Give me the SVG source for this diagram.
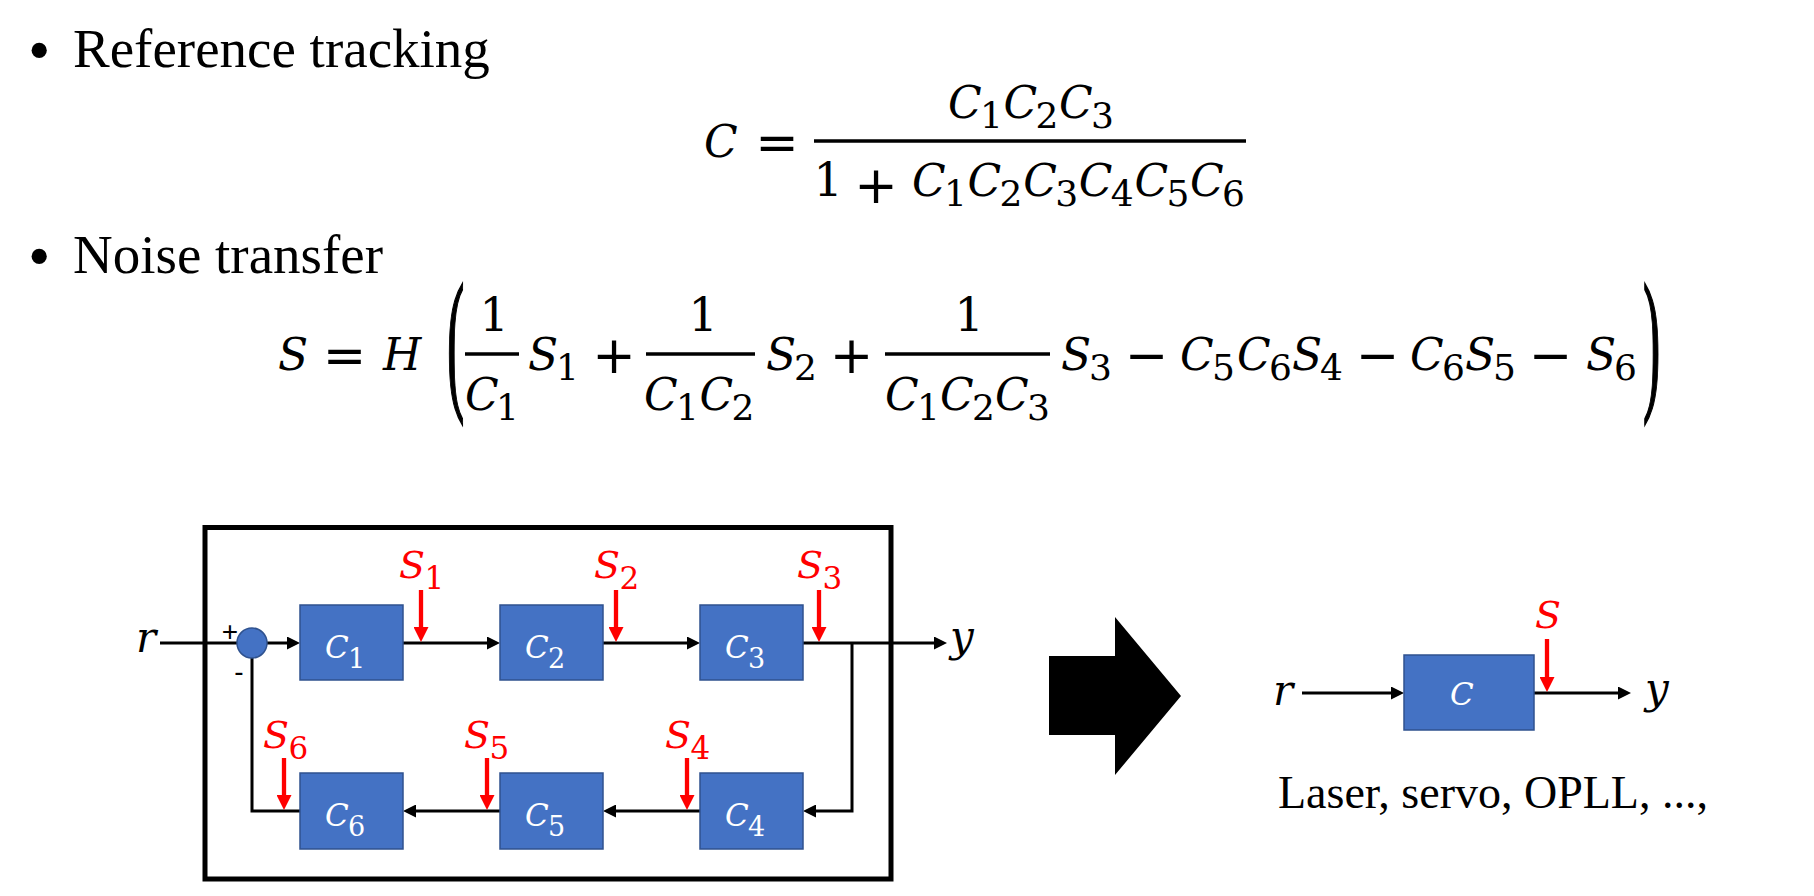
<svg xmlns="http://www.w3.org/2000/svg" width="1814" height="896" viewBox="0 0 1814 896">
<style>
.t{font-family:"Liberation Serif",serif;fill:#000}
.m{font-family:"DejaVu Serif",serif;font-style:italic;fill:#000}
.d{font-family:"DejaVu Serif",serif;font-style:normal}
.op{font-family:"DejaVu Sans",sans-serif;fill:#000;text-anchor:middle}
.box{fill:#4472C4;stroke:#2F528F;stroke-width:1.5}
.bl{font-family:"DejaVu Serif",serif;font-style:italic;fill:#fff;font-size:31px}
.nl{font-family:"DejaVu Serif",serif;font-style:italic;fill:#f00;font-size:38px}
.conn{stroke:#000;stroke-width:3;fill:none}
.noise{stroke:#f00;stroke-width:4.3;fill:none}
.bar{stroke:#000;stroke-width:3.4}
</style>
<defs>
<marker id="ah" markerUnits="userSpaceOnUse" viewBox="0 0 13 13" markerWidth="13" markerHeight="13" refX="7" refY="6.5" orient="auto"><path d="M0,0 L13,6.5 L0,13 z" fill="#000"/></marker>
<marker id="ahr" markerUnits="userSpaceOnUse" viewBox="0 0 15 15" markerWidth="15" markerHeight="15" refX="7" refY="7.5" orient="auto"><path d="M0,0 L15,7.5 L0,15 z" fill="#f00"/></marker>
</defs>
<rect width="1814" height="896" fill="#fff"/>

<g id="titles">
<text class="t" x="28" y="72" font-size="64" font-family="Liberation Sans">•</text>
<text class="t" x="73" y="67" font-size="55">Reference tracking</text>
<text class="t" x="28" y="278" font-size="64" font-family="Liberation Sans">•</text>
<text class="t" x="73" y="273" font-size="55">Noise transfer</text>
</g>

<g id="eq1" font-size="44">
<text class="m" x="704" y="157">C</text>
<text class="op" x="777" y="159.5" font-size="52">=</text>
<line class="bar" x1="814" y1="141" x2="1246" y2="141"/>
<text class="m" y="118"><tspan x="948">C</tspan><tspan class="d" x="980" y="128" font-size="36">1</tspan><tspan x="1003.5" y="118">C</tspan><tspan class="d" x="1035.5" y="128" font-size="36">2</tspan><tspan x="1059" y="118">C</tspan><tspan class="d" x="1091" y="128" font-size="36">3</tspan></text>
<text class="d" x="813.5" y="196" font-size="46">1</text>
<text class="op" x="876" y="202.5" font-size="52">+</text>
<text class="m" y="196"><tspan x="912">C</tspan><tspan class="d" x="944" y="206" font-size="36">1</tspan><tspan x="967.6" y="196">C</tspan><tspan class="d" x="999.6" y="206" font-size="36">2</tspan><tspan x="1023.2" y="196">C</tspan><tspan class="d" x="1055.2" y="206" font-size="36">3</tspan><tspan x="1078.8" y="196">C</tspan><tspan class="d" x="1110.8" y="206" font-size="36">4</tspan><tspan x="1134.4" y="196">C</tspan><tspan class="d" x="1166.4" y="206" font-size="36">5</tspan><tspan x="1190" y="196">C</tspan><tspan class="d" x="1222" y="206" font-size="36">6</tspan></text>
</g>

<g id="eq2" font-size="44">
<text class="m" x="278" y="370">S</text>
<text class="op" x="344.5" y="372.5" font-size="52">=</text>
<text class="m" x="383" y="370">H</text>
<text class="t" x="0" y="12.5" font-size="52" stroke="#000" stroke-width="0.8" transform="translate(447,354) scale(1,3)">(</text>
<line class="bar" x1="465" y1="354" x2="519" y2="354"/>
<text class="d" x="479.5" y="331" font-size="46">1</text>
<text class="m" y="410"><tspan x="465">C</tspan><tspan class="d" x="496" y="420" font-size="36">1</tspan></text>
<text class="m" y="370"><tspan x="528">S</tspan><tspan class="d" x="556" y="380" font-size="36">1</tspan></text>
<text class="op" x="614" y="372.5" font-size="52">+</text>
<line class="bar" x1="646" y1="354" x2="755" y2="354"/>
<text class="d" x="688.5" y="331" font-size="46">1</text>
<text class="m" y="410"><tspan x="644">C</tspan><tspan class="d" x="676" y="420" font-size="36">1</tspan><tspan x="699.5" y="410">C</tspan><tspan class="d" x="731.5" y="420" font-size="36">2</tspan></text>
<text class="m" y="370"><tspan x="766">S</tspan><tspan class="d" x="794" y="380" font-size="36">2</tspan></text>
<text class="op" x="851.5" y="372.5" font-size="52">+</text>
<line class="bar" x1="885" y1="354" x2="1050" y2="354"/>
<text class="d" x="954.5" y="331" font-size="46">1</text>
<text class="m" y="410"><tspan x="885">C</tspan><tspan class="d" x="917" y="420" font-size="36">1</tspan><tspan x="940" y="410">C</tspan><tspan class="d" x="972" y="420" font-size="36">2</tspan><tspan x="995" y="410">C</tspan><tspan class="d" x="1027" y="420" font-size="36">3</tspan></text>
<text class="m" y="370"><tspan x="1061">S</tspan><tspan class="d" x="1089" y="380" font-size="36">3</tspan></text>
<text class="op" x="1146.5" y="372.5" font-size="52">−</text>
<text class="m" y="370"><tspan x="1180">C</tspan><tspan class="d" x="1212" y="380" font-size="36">5</tspan><tspan x="1237" y="370">C</tspan><tspan class="d" x="1269" y="380" font-size="36">6</tspan><tspan x="1292" y="370">S</tspan><tspan class="d" x="1320" y="380" font-size="36">4</tspan></text>
<text class="op" x="1377.5" y="372.5" font-size="52">−</text>
<text class="m" y="370"><tspan x="1410">C</tspan><tspan class="d" x="1442" y="380" font-size="36">6</tspan><tspan x="1465" y="370">S</tspan><tspan class="d" x="1493" y="380" font-size="36">5</tspan></text>
<text class="op" x="1550.5" y="372.5" font-size="52">−</text>
<text class="m" y="370"><tspan x="1586">S</tspan><tspan class="d" x="1614" y="380" font-size="36">6</tspan></text>
<text class="t" x="0" y="12.5" font-size="52" stroke="#000" stroke-width="0.8" transform="translate(1643,354) scale(1,3)">)</text>
</g>

<g id="frame">
<rect x="205" y="527.5" width="686" height="351.5" fill="none" stroke="#000" stroke-width="5"/>
</g>

<g id="connectors">
<path class="conn" d="M160,643 L237,643"/>
<path class="conn" d="M267,643 L294,643" marker-end="url(#ah)"/>
<path class="conn" d="M403,643 L494,643" marker-end="url(#ah)"/>
<path class="conn" d="M603,643 L694,643" marker-end="url(#ah)"/>
<path class="conn" d="M803,643 L941,643" marker-end="url(#ah)"/>
<path class="conn" d="M852,643 L852,811 L809,811" marker-end="url(#ah)"/>
<path class="conn" d="M700,811 L609,811" marker-end="url(#ah)"/>
<path class="conn" d="M500,811 L409,811" marker-end="url(#ah)"/>
<path class="conn" d="M300,811 L252,811 L252,658"/>
<path class="conn" d="M1302,693 L1398,693" marker-end="url(#ah)"/>
<path class="conn" d="M1534,693 L1625,693" marker-end="url(#ah)"/>
<path class="noise" d="M421,590 L421,634" marker-end="url(#ahr)"/>
<path class="noise" d="M616,590 L616,634" marker-end="url(#ahr)"/>
<path class="noise" d="M819,590 L819,634" marker-end="url(#ahr)"/>
<path class="noise" d="M687,758 L687,802" marker-end="url(#ahr)"/>
<path class="noise" d="M487,758 L487,802" marker-end="url(#ahr)"/>
<path class="noise" d="M284,758 L284,802" marker-end="url(#ahr)"/>
<path class="noise" d="M1547,639 L1547,684" marker-end="url(#ahr)"/>
</g>

<g id="input-r"><text class="m" x="136" y="652" font-size="42">r</text></g>
<g id="output-y"><text class="m" x="950" y="651" font-size="42">y</text></g>
<g id="sum">
<circle cx="252" cy="643" r="15" fill="#4472C4" stroke="#2F528F" stroke-width="1.5"/>
<text x="230" y="641" font-family="Liberation Sans" font-size="28" text-anchor="middle">+</text>
<text x="239" y="681" font-family="Liberation Sans" font-size="28" text-anchor="middle">-</text>
</g>
<g id="C1"><rect class="box" x="300" y="605" width="103" height="75"/><text class="bl" x="325" y="658">C<tspan class="d" x="348" y="668" font-size="27">1</tspan></text></g>
<g id="C2"><rect class="box" x="500" y="605" width="103" height="75"/><text class="bl" x="525" y="658">C<tspan class="d" x="548" y="668" font-size="27">2</tspan></text></g>
<g id="C3"><rect class="box" x="700" y="605" width="103" height="75"/><text class="bl" x="725" y="658">C<tspan class="d" x="748" y="668" font-size="27">3</tspan></text></g>
<g id="C4"><rect class="box" x="700" y="773" width="103" height="76"/><text class="bl" x="725" y="826">C<tspan class="d" x="748" y="836" font-size="27">4</tspan></text></g>
<g id="C5"><rect class="box" x="500" y="773" width="103" height="76"/><text class="bl" x="525" y="826">C<tspan class="d" x="548" y="836" font-size="27">5</tspan></text></g>
<g id="C6"><rect class="box" x="300" y="773" width="103" height="76"/><text class="bl" x="325" y="826">C<tspan class="d" x="348" y="836" font-size="27">6</tspan></text></g>

<g id="S1"><text class="nl" x="399" y="578">S<tspan class="d" x="424.5" y="589" font-size="31">1</tspan></text></g>
<g id="S2"><text class="nl" x="594" y="578">S<tspan class="d" x="619.5" y="589" font-size="31">2</tspan></text></g>
<g id="S3"><text class="nl" x="797" y="578">S<tspan class="d" x="822.5" y="589" font-size="31">3</tspan></text></g>
<g id="S4"><text class="nl" x="665" y="748">S<tspan class="d" x="690.5" y="759" font-size="31">4</tspan></text></g>
<g id="S5"><text class="nl" x="464" y="748">S<tspan class="d" x="489.5" y="759" font-size="31">5</tspan></text></g>
<g id="S6"><text class="nl" x="263" y="748">S<tspan class="d" x="288.5" y="759" font-size="31">6</tspan></text></g>

<g id="big-arrow"><polygon points="1049,656 1115,656 1115,617 1181,696 1115,775 1115,735 1049,735" fill="#000"/></g>

<g id="r2"><text class="m" x="1273" y="705" font-size="42">r</text></g>
<g id="C"><rect class="box" x="1404" y="655" width="130" height="75"/><text class="bl" x="1450" y="705">C</text></g>
<g id="S"><text class="nl" x="1535" y="628">S</text></g>
<g id="y2"><text class="m" x="1645" y="703" font-size="42">y</text></g>
<g id="caption"><text class="t" x="1278" y="808" font-size="46">Laser, servo, OPLL, ...,</text></g>
</svg>
